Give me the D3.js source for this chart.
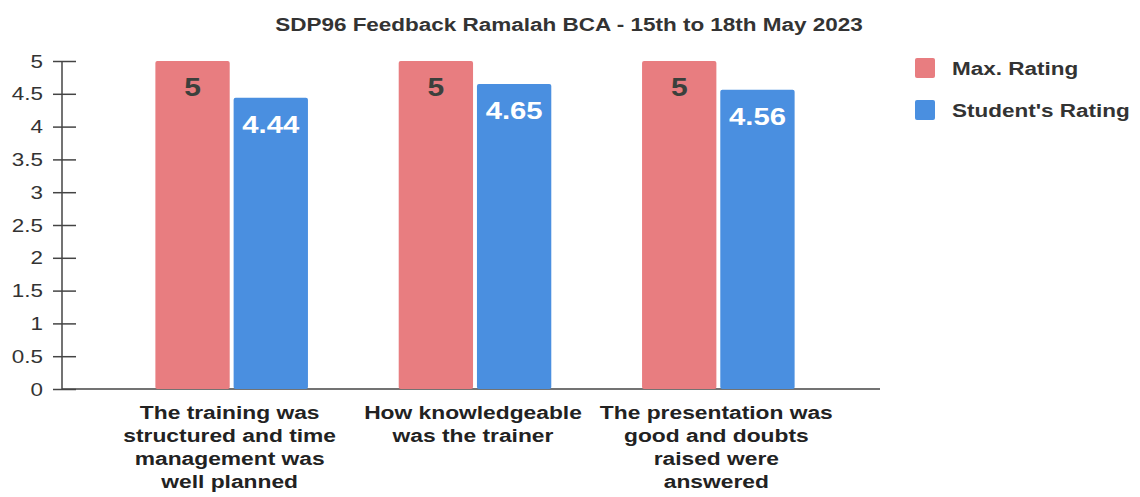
<!DOCTYPE html>
<html>
<head>
<meta charset="utf-8">
<script src="https://cdn.jsdelivr.net/npm/d3@7"></script>
<style>
  body { margin: 0; background: #fff; }
  svg { font-family: "Liberation Sans", Arial, sans-serif; }
</style>
</head>
<body>
<svg id="chart" width="1140" height="497"></svg>
<script>
var categories = [
  ["The training was", "structured and time", "management was", "well planned"],
  ["How knowledgeable", "was the trainer"],
  ["The presentation was", "good and doubts", "raised were", "answered"]
];
var seriesNames = ["Max. Rating", "Student's Rating"];
var maxRating = [5, 5, 5];
var studentRating = [4.44, 4.65, 4.56];
var yTicks = [0, 0.5, 1, 1.5, 2, 2.5, 3, 3.5, 4, 4.5, 5];
var colors = ["#e87d80", "#4a8fe0"];

// the reference text is a bit wider than Arial, stretch it sideways
var SX = 1.25;

var svg = d3.select("#chart");

// scales
var x0 = d3.scaleBand()
    .domain(d3.range(categories.length))
    .range([110, 840]);
var x1 = d3.scaleBand()
    .domain([0, 1])
    .range([0, x0.bandwidth()])
    .paddingInner(0.05)
    .paddingOuter(0.58);
var y = d3.scaleLinear().domain([0, 5]).range([389, 61]);

function stretched(sel, x, yy, sx) {
    sel.attr("transform", "translate(" + x + "," + yy + ") scale(" + (sx || SX) + ",1)");
}

// title
svg.append("text")
    .call(stretched, 569, 31)
    .attr("text-anchor", "middle")
    .attr("font-size", 18)
    .attr("font-weight", "bold")
    .attr("fill", "#333")
    .text("SDP96 Feedback Ramalah BCA - 15th to 18th May 2023");

// y axis
var yAxis = d3.axisLeft(y).tickValues(yTicks).tickSize(0).tickPadding(0)
    .tickFormat(function(d) { return String(d); });
var gy = svg.append("g").attr("transform", "translate(62,0)").call(yAxis);
gy.select(".domain").remove();
gy.selectAll(".tick line").remove();
gy.selectAll(".tick").append("line")
    .attr("x1", -9).attr("x2", 14)
    .attr("stroke", "#444").attr("stroke-width", 1.5);
gy.append("line")
    .attr("x1", 0).attr("x2", 0)
    .attr("y1", y(5)).attr("y2", y(0))
    .attr("stroke", "#444").attr("stroke-width", 1.5);
gy.selectAll(".tick text")
    .attr("x", 0)
    .attr("transform", "translate(-19,0) scale(1.18,1)")
    .attr("font-size", 19)
    .attr("fill", "#333")
    .attr("font-family", "Liberation Sans, Arial, sans-serif");

// x axis baseline
svg.append("line")
    .attr("x1", 62).attr("x2", 880)
    .attr("y1", y(0)).attr("y2", y(0))
    .attr("stroke", "#444").attr("stroke-width", 1.5);

// bars
var groups = svg.selectAll(".grp")
    .data(categories.map(function(c, i) { return [maxRating[i], studentRating[i]]; }))
    .enter().append("g")
    .attr("class", "grp")
    .attr("transform", function(d, i) { return "translate(" + x0(i) + ",0)"; });

groups.selectAll("rect")
    .data(function(d) { return d; })
    .enter().append("rect")
    .attr("x", function(d, j) { return x1(j); })
    .attr("y", function(d) { return y(d); })
    .attr("width", x1.bandwidth())
    .attr("height", function(d) { return y(0) - y(d); })
    .attr("rx", 2)
    .attr("fill", function(d, j) { return colors[j]; });

groups.selectAll(".val")
    .data(function(d) { return d; })
    .enter().append("text")
    .attr("class", "val")
    .each(function(d, j) {
        d3.select(this).call(stretched, x1(j) + x1.bandwidth() / 2, y(d) + 35, j === 0 ? 1.2 : 1.22);
    })
    .attr("text-anchor", "middle")
    .attr("font-weight", "bold")
    .attr("font-size", function(d, j) { return j === 0 ? 25 : 24; })
    .attr("fill", function(d, j) { return j === 0 ? "#3b403c" : "#fff"; })
    .text(function(d) { return d; });

// category labels
svg.selectAll(".cat")
    .data(categories)
    .enter().append("g")
    .attr("class", "cat")
    .each(function(lines, i) {
        var g = d3.select(this);
        lines.forEach(function(l, k) {
            g.append("text")
                .call(stretched, x0(i) + x0.bandwidth() / 2 - 2, 419 + k * 23, 1.2)
                .attr("text-anchor", "middle")
                .attr("font-size", 19)
                .attr("font-weight", "bold")
                .attr("fill", "#222")
                .text(l);
        });
    });

// legend
var legend = svg.selectAll(".leg")
    .data(seriesNames)
    .enter().append("g")
    .attr("class", "leg")
    .attr("transform", function(d, i) { return "translate(915," + (58 + i * 42) + ")"; });
legend.append("rect")
    .attr("width", 20).attr("height", 20).attr("rx", 2)
    .attr("fill", function(d, i) { return colors[i]; });
legend.append("text")
    .call(stretched, 37, 17)
    .attr("font-size", 18)
    .attr("font-weight", "bold")
    .attr("fill", "#333")
    .text(function(d) { return d; });
</script>
</body>
</html>
